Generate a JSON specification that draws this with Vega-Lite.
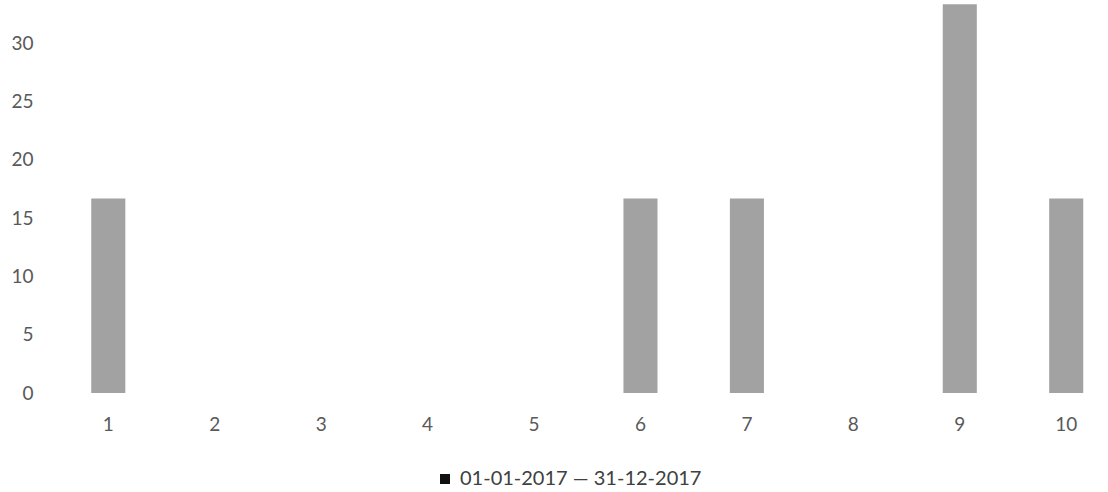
{
  "$schema": "https://vega.github.io/schema/vega-lite/v6.json",
  "autosize": "none",
  "width": 1058,
  "height": 393,
  "padding": {"left": 50, "top": 0, "right": 0, "bottom": 99},
  "background": "white",
  "config": {
    "view": {"stroke": null},
    "font": "Lato",
    "axis": {"labelFont": "Lato", "labelFontSize": 19, "labelColor": "#595959", "domain": false, "ticks": false, "grid": false},
    "legend": {"labelFont": "Lato", "labelFontSize": 20, "labelColor": "#404040", "labelLimit": 500}
  },
  "data": {
    "values": [
      {"k": "1", "v": 16.67, "s": "01-01-2017 — 31-12-2017"},
      {"k": "2", "v": 0, "s": "01-01-2017 — 31-12-2017"},
      {"k": "3", "v": 0, "s": "01-01-2017 — 31-12-2017"},
      {"k": "4", "v": 0, "s": "01-01-2017 — 31-12-2017"},
      {"k": "5", "v": 0, "s": "01-01-2017 — 31-12-2017"},
      {"k": "6", "v": 16.67, "s": "01-01-2017 — 31-12-2017"},
      {"k": "7", "v": 16.67, "s": "01-01-2017 — 31-12-2017"},
      {"k": "8", "v": 0, "s": "01-01-2017 — 31-12-2017"},
      {"k": "9", "v": 33.33, "s": "01-01-2017 — 31-12-2017"},
      {"k": "10", "v": 16.67, "s": "01-01-2017 — 31-12-2017"}
    ]
  },
  "encoding": {
    "x": {
      "field": "k", "type": "ordinal", "sort": null,
      "scale": {"paddingInner": 0.68, "paddingOuter": 0.31, "align": 0.625},
      "axis": {"title": null, "labelAngle": 0, "labelPadding": 22}
    },
    "y": {
      "field": "v", "type": "quantitative",
      "scale": {"domain": [0, 33.7], "nice": false},
      "axis": {"title": null, "values": [0, 5, 10, 15, 20, 25, 30], "labelPadding": 17}
    }
  },
  "layer": [
    {
      "mark": {"type": "bar", "color": "#a2a2a2"}
    },
    {
      "transform": [{"filter": "false"}],
      "mark": {"type": "point", "shape": "square", "filled": true, "opacity": 1},
      "encoding": {
        "color": {
          "field": "s", "type": "nominal",
          "scale": {"domain": ["01-01-2017 — 31-12-2017"], "range": ["#111111"]},
          "legend": {
            "title": null, "orient": "none", "legendX": 385, "legendY": 469,
            "symbolType": "square", "symbolSize": 100, "symbolStrokeWidth": 0,
            "symbolOpacity": 1, "labelOffset": 5
          }
        }
      }
    }
  ]
}
